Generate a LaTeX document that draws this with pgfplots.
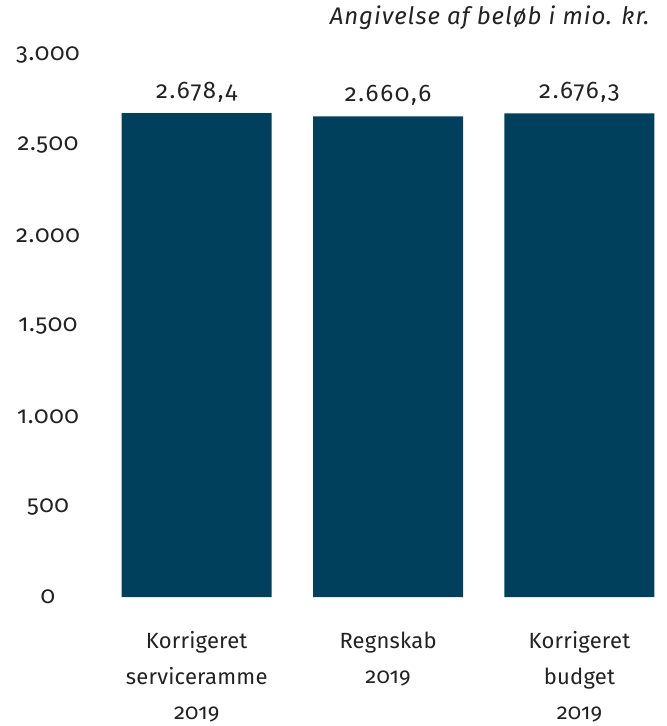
\documentclass[border=0pt]{standalone}
\usepackage{pgfplots}
\pgfplotsset{compat=1.18}
\usepackage{fontspec}
\setmainfont{Fira Sans}[Numbers=OldStyle, LetterSpace=1]
\newfontfamily\tickfont{Fira Sans}[Numbers=OldStyle, LetterSpace=2.5]
\newfontfamily\valfont{Fira Sans}[Numbers=OldStyle, LetterSpace=7]
\newfontfamily\titfont{Fira Sans Italic}[Numbers=OldStyle, LetterSpace=4]
\definecolor{barblue}{RGB}{0,64,92}
\definecolor{txt}{RGB}{34,34,34}
\begin{document}
\begin{tikzpicture}
\path[use as bounding box] (-101pt,-129pt) rectangle (566pt,597pt);
\begin{axis}[
  at={(0pt,0pt)}, anchor=south west,
  scale only axis,
  width=555pt, height=542pt,
  xmin=-0.5, xmax=2.4,
  ymin=0, ymax=3000,
  axis line style={draw=none},
  tick style={draw=none},
  ytick={0,500,1000,1500,2000,2500,3000},
  xtick={0,1,2},
  xticklabels={{Korrigeret\\serviceramme\\2019},{Regnskab\\2019},{Korrigeret\\budget\\2019}},
  xticklabel style={align=center, font=\fontsize{22}{35.5}\selectfont, text=txt, anchor=north, yshift=-31pt},
  yticklabel style={anchor=center, xshift=-53pt, font=\fontsize{24}{26}\tickfont, text=txt},
  /pgf/number format/assume math mode=true,
  /pgf/number format/.cd, 1000 sep={.}, use comma,
  /pgfplots/.cd,
  clip=false,
]
\addplot[ybar, bar width=150pt, fill=barblue, draw=none,
  nodes near coords,
  every node near coord/.append style={font=\fontsize{24}{26}\valfont, text=txt, yshift=7pt,
    /pgf/number format/fixed, /pgf/number format/fixed zerofill, /pgf/number format/precision=1,
    /pgf/number format/1000 sep={.}, /pgf/number format/use comma, /pgf/number format/assume math mode=true}]
  coordinates {(0,2678.4) (1,2660.6) (2,2676.3)};
\node[anchor=east, font=\fontsize{24}{26}\titfont, text=txt] at ([yshift=37pt,xshift=-3pt]rel axis cs:1,1) {Angivelse af beløb i mio. kr.};
\end{axis}
\end{tikzpicture}
\end{document}
